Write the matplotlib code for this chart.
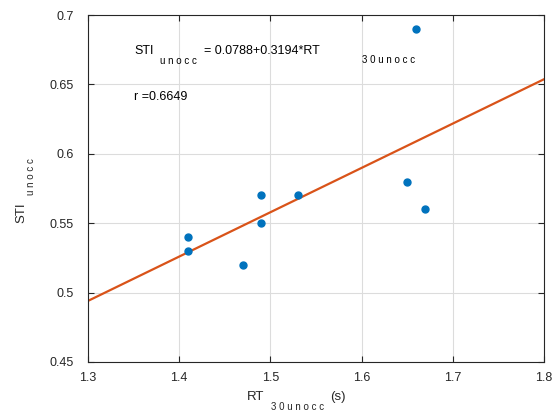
import matplotlib.pyplot as plt
import numpy as np

rt = [1.41, 1.41, 1.47, 1.49, 1.49, 1.53, 1.65, 1.66, 1.67]
sti = [0.54, 0.53, 0.52, 0.57, 0.55, 0.57, 0.58, 0.69, 0.56]
intercept = 0.0788
slope = 0.3194
xticks = [1.3, 1.4, 1.5, 1.6, 1.7, 1.8]
yticks = [0.45, 0.5, 0.55, 0.6, 0.65, 0.7]

plt.rcParams['font.family'] = ['Liberation Sans', 'DejaVu Sans']
W, H = 552, 416

def px(x, y):
    return x / W, 1 - y / H

fig = plt.figure(figsize=(5.52, 4.16), dpi=100)
ax = fig.add_axes([88 / W, 1 - 362 / H, (544 - 88) / W, (362 - 15) / H])

xl = np.array([1.3, 1.8])
ax.plot(xl, intercept + slope * xl, color='#D95319', linewidth=1.6, zorder=2)
ax.plot(rt, sti, 'o', color='#0072BD', markersize=5, zorder=3)

ax.set_xlim(1.3, 1.8)
ax.set_ylim(0.45, 0.7)
ax.set_xticks(xticks)
ax.set_yticks(yticks)
ax.set_xticklabels([f'{v:g}' for v in xticks])
ax.set_yticklabels([f'{v:g}' for v in yticks])
ax.grid(True, color='#dcdcdc', linewidth=0.8)
ax.set_axisbelow(True)
ax.tick_params(direction='in', top=True, right=True, length=4, width=0.8,
               colors='#262626', labelsize=9)
ax.tick_params(axis='x', pad=7)
ax.tick_params(axis='y', pad=10)
for s in ax.spines.values():
    s.set_color('#262626')
    s.set_linewidth(0.8)

gray = '#262626'
fig.text(*px(134, 51), 'STI', fontsize=9, va='center', ha='left', color='k')
fig.text(*px(160, 61), 'u n o c c', fontsize=7, va='center', ha='left', color='k')
fig.text(*px(204, 51), '= 0.0788+0.3194*RT', fontsize=9, va='center', ha='left', color='k')
fig.text(*px(362, 60), '3 0 u n o c c', fontsize=7, va='center', ha='left', color='k')
fig.text(*px(134, 97), 'r =0.6649', fontsize=9, va='center', ha='left', color='k')

fig.text(*px(247, 397), 'RT', fontsize=9.5, va='center', ha='left', color=gray)
fig.text(*px(271, 407), '3 0 u n o c c', fontsize=7, va='center', ha='left', color=gray)
fig.text(*px(330, 397), '(s)', fontsize=9.5, va='center', ha='left', color=gray)

fig.text(*px(21, 213), 'STI', fontsize=9.5, va='center', ha='center', rotation=90, color=gray)
fig.text(*px(31, 177), 'u n o c c', fontsize=7, va='center', ha='center', rotation=90, color=gray)

fig.savefig('out.png', dpi=100)
